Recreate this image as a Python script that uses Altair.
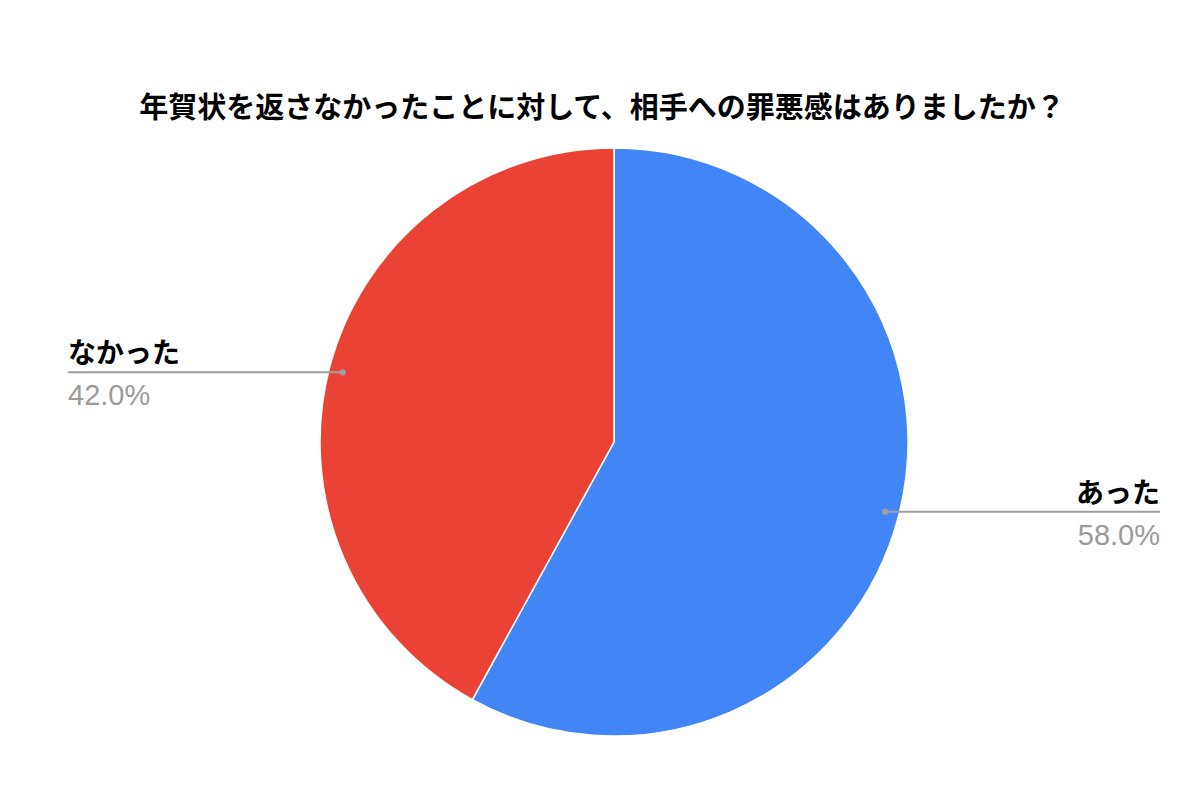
import math
import altair as alt
import pandas as pd

# ---- data ----
title_text = "年賀状を返さなかったことに対して、相手への罪悪感はありましたか？"
categories = ["あった", "なかった"]
values = [58.0, 42.0]
colors = ["#4285F4", "#EA4335"]

# ---- layout ----
W, H = 1183, 784
CX, CY, R = 606, 434, 294
DOT_R = 280
LEFT_X, RIGHT_X = 60, 1152

total = sum(values)
rows = []
cum = 0.0
for i, (c, v, col) in enumerate(zip(categories, values, colors)):
    mid = (cum + v / 2) / total * 2 * math.pi
    cum += v
    dx = CX + DOT_R * math.sin(mid)
    dy = CY - DOT_R * math.cos(mid)
    right = math.sin(mid) > 0
    rows.append({
        "cat": c, "val": v, "idx": i, "color": col,
        "pct": f"{v / total * 100:.1f}%",
        "dot_x": dx, "dot_y": dy,
        "lab_x": RIGHT_X if right else LEFT_X,
        "align": "right" if right else "left",
    })
df = pd.DataFrame(rows)

pie = alt.Chart(df).mark_arc(radius=R, stroke="white", strokeWidth=1.5).encode(
    theta=alt.Theta("val:Q", stack=True),
    order=alt.Order("idx:Q"),
    color=alt.Color("cat:N", scale=alt.Scale(domain=categories, range=colors), legend=None),
    x=alt.value(CX), y=alt.value(CY),
)

lines = alt.Chart(df).mark_rule(color="#9e9e9e", strokeWidth=2).encode(
    x=alt.X("lab_x:Q", scale=None, axis=None),
    x2="dot_x:Q",
    y=alt.Y("dot_y:Q", scale=None, axis=None),
)

dots = alt.Chart(df).mark_circle(color="#9e9e9e", opacity=1, size=40).encode(
    x=alt.X("dot_x:Q", scale=None, axis=None),
    y=alt.Y("dot_y:Q", scale=None, axis=None),
)

def labels(align):
    sub = df[df["align"] == align]
    base = alt.Chart(sub)
    name = base.mark_text(
        align=align, baseline="alphabetic", dy=-9,
        font="Noto Sans CJK JP", fontSize=28, fontWeight="bold", color="#000000",
    ).encode(
        x=alt.X("lab_x:Q", scale=None, axis=None),
        y=alt.Y("dot_y:Q", scale=None, axis=None),
        text="cat:N",
    )
    pct = base.mark_text(
        align=align, baseline="alphabetic", dy=33,
        font="Liberation Sans", fontSize=29, fontWeight=500, color="#9a9a9a",
    ).encode(
        x=alt.X("lab_x:Q", scale=None, axis=None),
        y=alt.Y("dot_y:Q", scale=None, axis=None),
        text="pct:N",
    )
    return name + pct

title = alt.Chart(pd.DataFrame({"t": [title_text]})).mark_text(
    align="center", baseline="middle",
    font="Noto Sans CJK JP", fontSize=29, fontWeight="bold", color="#000000",
).encode(x=alt.value(594), y=alt.value(101), text="t:N")

chart = alt.layer(pie, lines, dots, labels("left"), labels("right"), title).properties(
    width=W, height=H, padding=0, autosize=alt.AutoSizeParams(type="none"),
    background="white",
).configure_view(stroke=None)

chart.save("out.html", embed_options={"renderer": "svg", "actions": False})
